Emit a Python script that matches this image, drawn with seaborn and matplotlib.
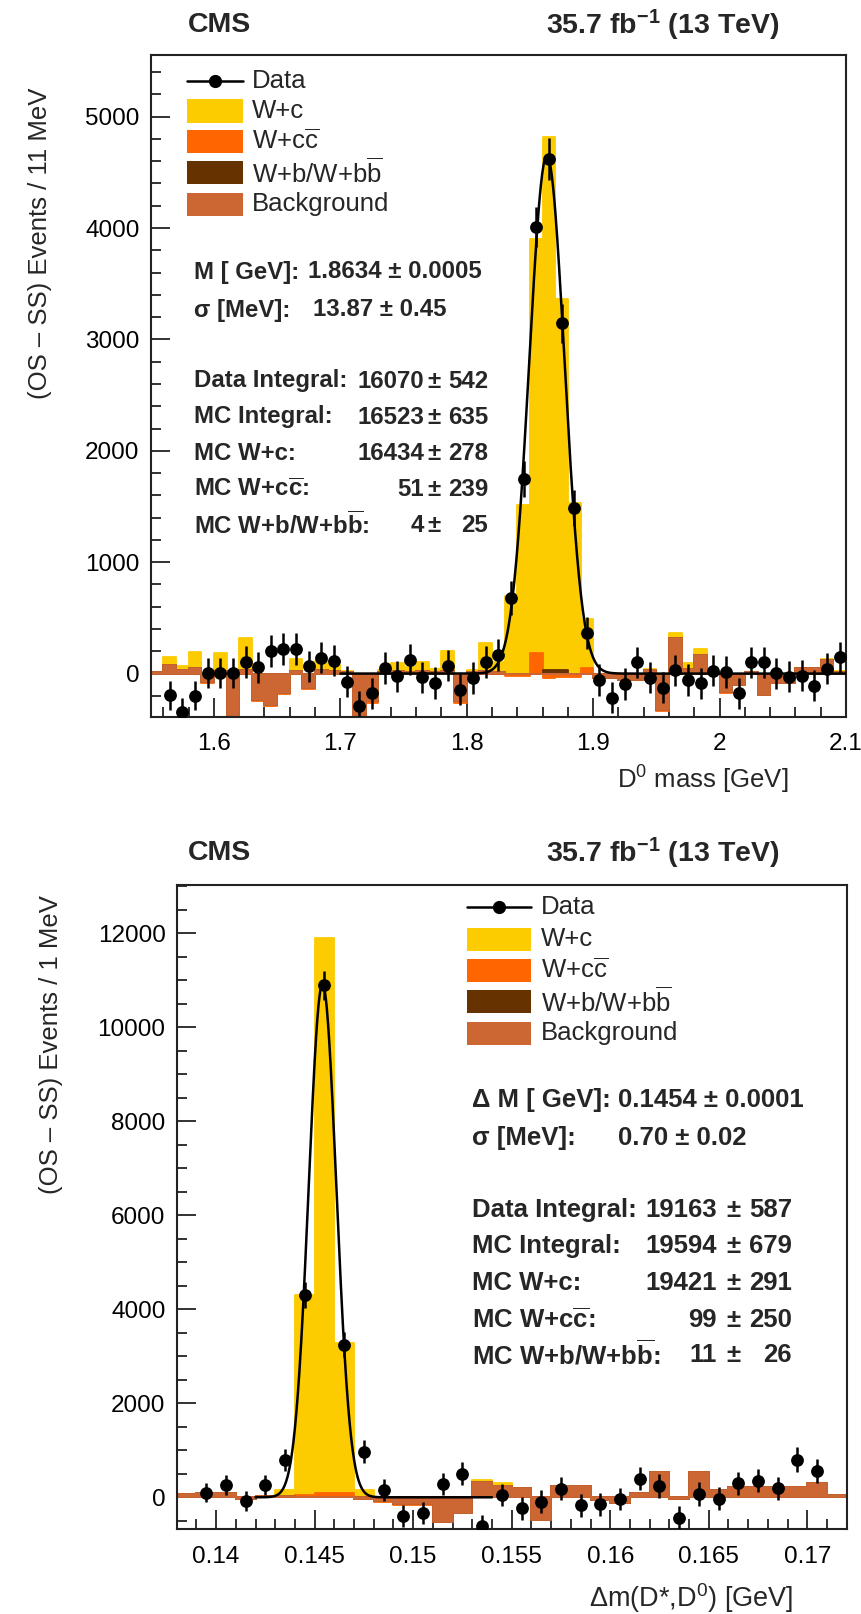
import numpy as np
import seaborn as sns
import matplotlib
matplotlib.use("Agg")
import matplotlib.pyplot as plt
from matplotlib.patches import Rectangle
from matplotlib.lines import Line2D
from matplotlib.ticker import MultipleLocator, FuncFormatter

# ------------------------------------------------------------------ data
# ---- top panel: D0 mass, 10 MeV bins from 1.55 to 2.10 GeV
top_edges = np.round(np.arange(1.55, 2.1001, 0.01), 4)
top_bkg = [15, 75, 36, 50, -78, 20, -450, 36, -233, -278, -173, 20, -128, 36, 20,
           10, -450, -250, 10, 20, 15, 20, 10, 20, -248, 10, 20, 10, 0, 0,
           0, 0, 0, 0, 0, -40, -40, -57, -57, 30, -325, 316, 40, 167, 0,
           -161, -100, 10, -191, -87, -87, 48, 48, 122, 18]
top_wb = [0] * 31 + [30, 36] + [0] * 22
top_wcc = [0, 0, 0, 0, -10, 0, -10, 0, -10, -15, -10, 0, -10, 0, 0,
           0, -10, -10, 0, 0, 0, 0, 0, 0, -15, 0, 0, 0, -20, -20,
           185, -70, -70, -30, 50, 0, 0, 0, 0, 0, -15, 0, 0, 0, 0,
           -10, 0, 0, 0, 0, 0, 0, 0, 0, 0]
top_wc = [0, 74, 30, 141, 60, 165, 50, 283, 40, 30, 40, 111, 30, 74, 60,
          10, 30, 30, 20, 75, 45, 80, 30, 180, 40, 20, 255, 90, 720, 1533,
          3713, 4854, 3394, 1559, 440, 10, 5, 10, 10, 10, 20, 45, 53, 51, 10,
          10, 10, 5, 5, 5, 5, 5, 5, 8, 5]
top_x = np.round(np.arange(1.565, 2.0951, 0.01), 4)
top_y = [-195, -346, -200, 3, 9, 6, 104, 58, 205, 218, 218, 66, 143, 117, -72,
         -293, -176, 51, -24, 125, -33, -84, 72, -143, -39, 104, 164, 678, 1744, 4006,
         4619, 3144, 1484, 366, -58, -216, -93, 102, -36, -126, 31, -58, -88, 27, 15,
         -177, 101, 101, 2, -28, -18, -107, 45, 146]
top_err = [130, 130, 130, 135, 135, 135, 140, 140, 145, 145, 145, 140, 140, 140, 140,
           140, 140, 140, 140, 140, 140, 140, 140, 140, 140, 140, 145, 150, 160, 180,
           185, 175, 160, 145, 140, 140, 140, 140, 140, 140, 140, 140, 140, 140, 140,
           140, 140, 140, 140, 140, 140, 140, 140, 140]
top_fit = dict(mean=1.8634, sigma=0.01387, amp=4650.0, lo=1.70, hi=2.10)

# ---- bottom panel: delta m, 1 MeV bins from 0.138 to 0.172 GeV
bot_edges = np.round(np.arange(0.138, 0.17201, 0.001), 4)
bot_bkg = [80, 100, 100, -40, 30, 20, 10, 10, 10, -30, -80, -150, -150, -517, -340,
           333, 240, 200, -482, 241, 241, -57, -128, 85, 546, -30, 546, 156, 227, 227,
           227, 227, 312, 50]
bot_wb = [0] * 34
bot_wcc = [0, 0, 0, 0, 0, 0, 40, 80, 80, 0, -10, -10, -5, 0, 0,
           0, 0, 0, 0, 0, 0, 0, 0, 0, 0, 0, 0, 0, 0, 0, 0, 0, 0, 0]
bot_wc = [0, 0, 0, 0, 0, 136, 4260, 11820, 3190, 186, 20, 10, 10, 10, 10,
          37, 55, 0, 0, 0, 0, 0, 0, 0, 0, 0, 0, 0, 0, 0, 0, 0, 0, 0]
bot_x = np.round(np.arange(0.1395, 0.17051, 0.001), 4)
bot_y = [99, 262, -71, 262, 787, 4300, 10890, 3250, 972, 160, -397, -340, 284, 505, -610,
         50, -234, -92, 185, -170, -150, -40, 395, 241, -430, 68, -30, 298, 355, 191,
         800, 555]
bot_err = [200, 210, 210, 220, 230, 280, 300, 270, 250, 230, 230, 230, 240, 240, 240,
           240, 240, 240, 250, 240, 240, 240, 250, 250, 240, 250, 240, 250, 250, 250,
           260, 260]
bot_fit = dict(mean=0.1454, sigma=0.00070, amp=10920.0, lo=0.142, hi=0.154)

legend_labels = ["Data", "W+c", r"W+c$\overline{\mathrm{c}}$",
                 r"W+b/W+b$\overline{\mathrm{b}}$", "Background"]

stats_labels = ["Data Integral:", "MC Integral:", "MC W+c:",
                r"MC W+c$\overline{\mathbf{c}}$:", r"MC W+b/W+b$\overline{\mathbf{b}}$:"]
top_stats_vals = ["16070", "16523", "16434", "51", "4"]
top_stats_errs = ["542", "635", "278", "239", "25"]
bot_stats_vals = ["19163", "19594", "19421", "99", "11"]
bot_stats_errs = ["587", "679", "291", "250", "26"]

# ------------------------------------------------------------------ style
sns.set_style("ticks")
plt.rcParams["font.family"] = ["Liberation Sans", "DejaVu Sans"]
plt.rcParams["mathtext.fontset"] = "custom"
plt.rcParams["mathtext.rm"] = "Liberation Sans"
plt.rcParams["mathtext.it"] = "Liberation Sans:italic"
plt.rcParams["mathtext.bf"] = "Liberation Sans:bold"
plt.rcParams["axes.edgecolor"] = "#222222"

C_WC = "#FCCB00"
C_WCC = "#FF6600"
C_WB = "#663300"
C_BKG = "#CC6633"

W, H = 861, 1614
fig = plt.figure(figsize=(W / 100, H / 100), dpi=100)


def fx(x):
    return x / W


def fy(y):
    return 1 - y / H


def T(x, y, s, **kw):
    kw.setdefault("fontsize", 18.5)
    kw.setdefault("va", "center")
    fig.text(fx(x), fy(y), s, **kw)


def panel(rect, edges, bkg, wb, wcc, wc, px, py, perr, fit, xlim, ylim,
          xmaj, xmin, ymaj, ymin):
    ax = fig.add_axes(rect)
    b = np.array(bkg, float)
    wbb = np.array(wb, float)
    wcc_ = np.array(wcc, float)
    wc_ = np.array(wc, float)
    mids = (edges[:-1] + edges[1:]) / 2
    layers = [(b + wbb + wcc_ + wc_, C_WC), (b + wbb + wcc_, C_WCC),
              (b + wbb, C_WB), (b, C_BKG)]
    for h, col in layers:
        sns.histplot(x=list(mids), weights=list(h), bins=list(edges), element="step",
                     fill=True, color=col, edgecolor=col, alpha=1, linewidth=1.3,
                     ax=ax, zorder=2)
    xf = np.linspace(fit["lo"], fit["hi"], 800)
    yf = fit["amp"] * np.exp(-0.5 * ((xf - fit["mean"]) / fit["sigma"]) ** 2)
    sns.lineplot(x=xf, y=yf, color="black", linewidth=1.8, ax=ax, zorder=4)
    ax.errorbar(px, py, yerr=perr, fmt="none", ecolor="black", elinewidth=1.8,
                capsize=0, zorder=5)
    sns.scatterplot(x=px, y=py, color="black", s=85, edgecolor="black",
                    linewidth=0, ax=ax, zorder=6)
    ax.set_xlim(*xlim)
    ax.set_ylim(*ylim)
    ax.set_xlabel("")
    ax.set_ylabel("")
    ax.xaxis.set_major_locator(MultipleLocator(xmaj))
    ax.xaxis.set_minor_locator(MultipleLocator(xmin))
    ax.yaxis.set_major_locator(MultipleLocator(ymaj))
    ax.yaxis.set_minor_locator(MultipleLocator(ymin))
    ax.xaxis.set_major_formatter(FuncFormatter(lambda v, p: "%g" % round(v, 4)))
    ax.yaxis.set_major_formatter(FuncFormatter(lambda v, p: "%d" % round(v)))
    ax.tick_params(which="major", direction="in", length=14, width=1.3,
                   top=False, right=False, labelsize=17.5, colors="#222222",
                   labelcolor="black")
    ax.tick_params(axis="x", which="major", pad=12)
    ax.tick_params(axis="y", which="major", pad=8)
    ax.tick_params(which="minor", direction="in", length=7, width=1.3,
                   top=False, right=False, colors="#222222")
    for sp in ax.spines.values():
        sp.set_visible(True)
        sp.set_linewidth(1.5)
    return ax


def draw_legend(xs0, xs1, xt, ydata, yrows):
    y = fy(ydata)
    fig.add_artist(Line2D([fx(xs0), fx(xs1)], [y, y], color="black", lw=1.8,
                          transform=fig.transFigure))
    fig.add_artist(Line2D([fx((xs0 + xs1) / 2)], [y], marker="o", ms=8.5,
                          color="black", transform=fig.transFigure))
    T(xt, ydata, legend_labels[0])
    hgt = 23
    for yr, col, lab in zip(yrows, [C_WC, C_WCC, C_WB, C_BKG], legend_labels[1:]):
        fig.add_artist(Rectangle((fx(xs0), fy(yr + hgt / 2)), (xs1 - xs0) / W, hgt / H,
                                 facecolor=col, edgecolor="none",
                                 transform=fig.transFigure))
        T(xt, yr, lab)


# ------------------------------------------------------------------ top panel
panel([150.7 / W, fy(716.7), (846 - 150.7) / W, (716.7 - 55) / H],
      top_edges, top_bkg, top_wb, top_wcc, top_wc, top_x, top_y, top_err, top_fit,
      (1.55, 2.10), (-387, 5553), 0.1, 0.02, 1000, 200)

T(188, 25, "CMS", fontweight="bold", fontsize=20.5)
T(779, 25, r"35.7 fb$^{\mathbf{-1}}$ (13 TeV)", fontweight="bold", fontsize=20.5, ha="right")
T(40, 88, "(OS \u2013 SS) Events / 11 MeV", rotation=90, ha="center", va="top", fontsize=18.5)
T(788, 780, r"D$^0$ mass [GeV]", ha="right")

draw_legend(187, 243, 251.7, 80.7, [111, 141.7, 172.7, 204.3])

SF = 17.3
T(194, 272, "M [ GeV]:", fontweight="bold", fontsize=SF)
T(308, 272, "1.8634 \u00b1 0.0005", fontweight="bold", fontsize=SF)
T(194, 310, "\u03c3 [MeV]:", fontweight="bold", fontsize=SF)
T(313, 310, "13.87 \u00b1 0.45", fontweight="bold", fontsize=SF)
for yy, lab, v, e in zip([381, 417, 453, 490, 525], stats_labels,
                         top_stats_vals, top_stats_errs):
    T(194, yy, lab, fontweight="bold", fontsize=SF)
    T(424, yy, v, fontweight="bold", ha="right", fontsize=SF)
    T(434, yy, "\u00b1", fontweight="bold", ha="center", fontsize=SF)
    T(488, yy, e, fontweight="bold", ha="right", fontsize=SF)

# ------------------------------------------------------------------ bottom panel
panel([176.7 / W, fy(1529.3), (846.7 - 176.7) / W, (1529.3 - 885) / H],
      bot_edges, bot_bkg, bot_wb, bot_wcc, bot_wc, bot_x, bot_y, bot_err, bot_fit,
      (0.138, 0.172), (-681, 13028), 0.005, 0.001, 2000, 500)

T(188, 853, "CMS", fontweight="bold", fontsize=20.5)
T(779, 853, r"35.7 fb$^{\mathbf{-1}}$ (13 TeV)", fontweight="bold", fontsize=20.5, ha="right")
T(51, 895, "(OS \u2013 SS) Events / 1 MeV", rotation=90, ha="center", va="top", fontsize=18.5)
T(793, 1598, "\u0394m(D*,D$^0$) [GeV]", ha="right", fontsize=19.5)

draw_legend(467, 531, 540.7, 906.7, [939.3, 970, 1001.7, 1033.3])

T(471.7, 1100, "\u0394 M [ GeV]:", fontweight="bold")
T(618, 1100, "0.1454 \u00b1 0.0001", fontweight="bold")
T(471.7, 1138, "\u03c3 [MeV]:", fontweight="bold")
T(618, 1138, "0.70 \u00b1 0.02", fontweight="bold")
for yy, lab, v, e in zip([1210, 1246, 1283, 1320, 1355], stats_labels,
                         bot_stats_vals, bot_stats_errs):
    T(471.7, yy, lab, fontweight="bold")
    T(717, yy, v, fontweight="bold", ha="right")
    T(733, yy, "\u00b1", fontweight="bold", ha="center")
    T(792, yy, e, fontweight="bold", ha="right")

fig.savefig("out.png", dpi=100)
